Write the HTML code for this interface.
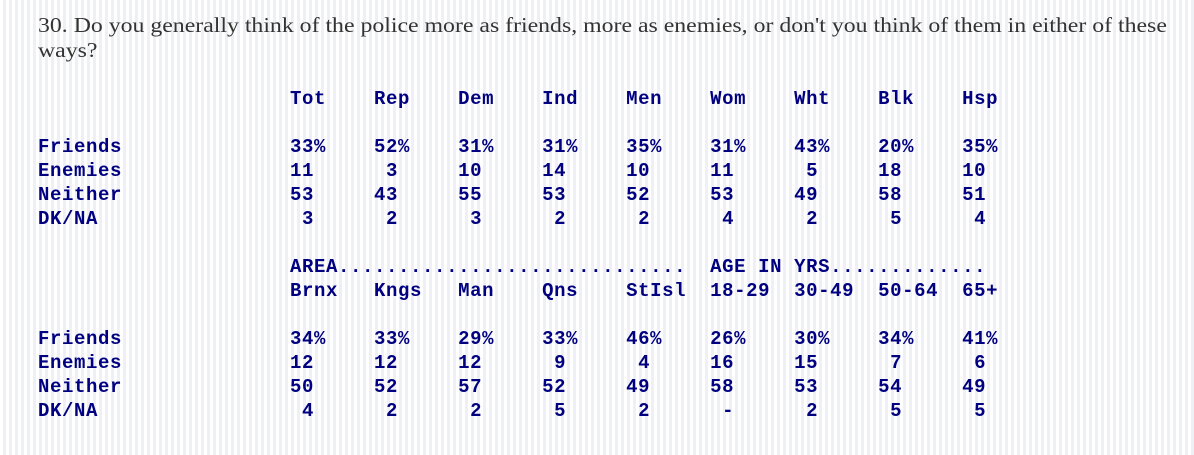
<!DOCTYPE html>
<html><head><meta charset="utf-8"><style>
html,body{margin:0;padding:0;width:1194px;height:455px;overflow:hidden}
body{background:repeating-linear-gradient(90deg,#fff 0 3px,#eef0f6 3px 6px);position:relative}
.t{position:absolute;left:38px;top:13px;font-family:"Liberation Serif",serif;font-size:21px;line-height:25px;color:#333;white-space:nowrap;transform:scaleX(1.133);transform-origin:0 0}
pre{position:absolute;left:38px;top:87px;margin:0;font-family:"Liberation Mono",monospace;font-weight:bold;font-size:19px;letter-spacing:0.6px;line-height:24px;color:#000080}
</style></head><body>
<div class="t">30. Do you generally think of the police more as friends, more as enemies, or don't you think of them in either of these<br>ways?</div>
<pre>                     Tot    Rep    Dem    Ind    Men    Wom    Wht    Blk    Hsp

Friends              33%    52%    31%    31%    35%    31%    43%    20%    35%
Enemies              11      3     10     14     10     11      5     18     10
Neither              53     43     55     53     52     53     49     58     51
DK/NA                 3      2      3      2      2      4      2      5      4

                     AREA.............................  AGE IN YRS.............
                     Brnx   Kngs   Man    Qns    StIsl  18-29  30-49  50-64  65+

Friends              34%    33%    29%    33%    46%    26%    30%    34%    41%
Enemies              12     12     12      9      4     16     15      7      6
Neither              50     52     57     52     49     58     53     54     49
DK/NA                 4      2      2      5      2      -      2      5      5</pre>
</body></html>
